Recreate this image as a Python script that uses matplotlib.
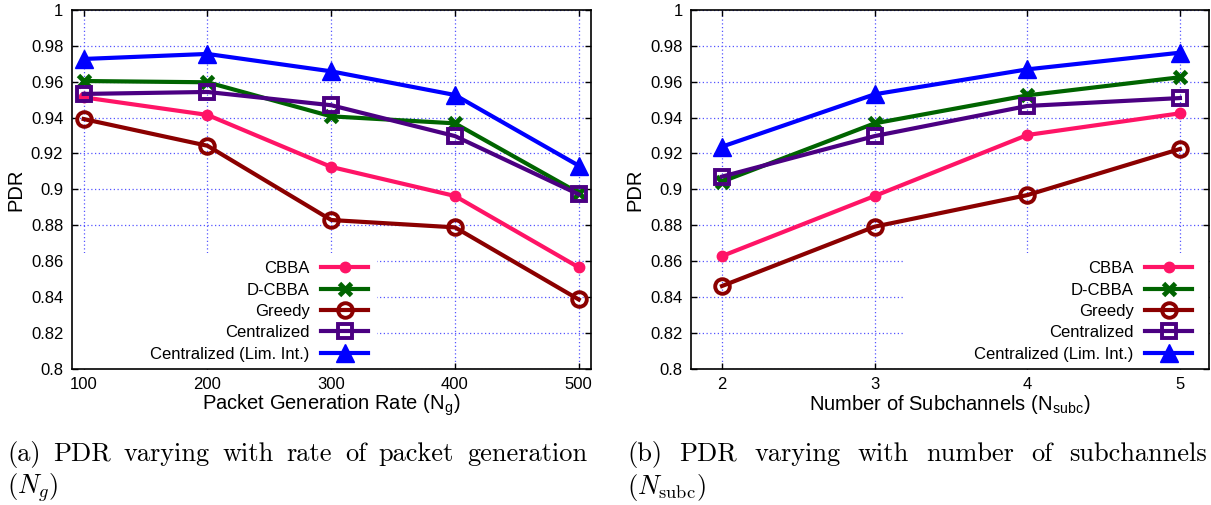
import matplotlib
matplotlib.use("Agg")
import matplotlib.pyplot as plt
from matplotlib.patches import Rectangle

plt.rcParams["font.family"] = ["Liberation Sans", "DejaVu Sans"]
plt.rcParams["mathtext.fontset"] = "cm"

# left panel: packet generation rate
rate = [100, 200, 300, 400, 500]
rate_cbba = [0.9513, 0.9415, 0.9125, 0.8963, 0.8565]
rate_dcbba = [0.9604, 0.9597, 0.9407, 0.9368, 0.8980]
rate_greedy = [0.9392, 0.9243, 0.8829, 0.8788, 0.8386]
rate_central = [0.9532, 0.9543, 0.9469, 0.9297, 0.8972]
rate_limint = [0.9727, 0.9755, 0.9658, 0.9526, 0.9132]

# right panel: number of subchannels
subc = [2, 3, 4, 5]
subc_cbba = [0.8628, 0.8963, 0.9303, 0.9424]
subc_dcbba = [0.9043, 0.9368, 0.9524, 0.9625]
subc_greedy = [0.8461, 0.8792, 0.8968, 0.9225]
subc_central = [0.9071, 0.9297, 0.9465, 0.9509]
subc_limint = [0.9238, 0.9530, 0.9669, 0.9762]

labels = ["CBBA", "D-CBBA", "Greedy", "Centralized", "Centralized (Lim. Int.)"]
y_ticks = [0.8, 0.82, 0.84, 0.86, 0.88, 0.9, 0.92, 0.94, 0.96, 0.98, 1.0]
y_tick_labels = ["0.8", "0.82", "0.84", "0.86", "0.88", "0.9", "0.92", "0.94",
                 "0.96", "0.98", "1"]

styles = [
    dict(color="#ff1466", marker="o", markersize=7.5),
    dict(color="#006400", marker="x", markersize=9, markeredgewidth=3.5),
    dict(color="#8b0000", marker="o", markersize=10.5, markerfacecolor="none",
         markeredgewidth=2.8),
    dict(color="#4b0082", marker="s", markersize=10.5, markerfacecolor="none",
         markeredgewidth=2.8),
    dict(color="#0000ff", marker="^", markersize=12.5),
]


def draw_panel(ax, x, series, xlim, xlabel, legend_x, box_x0, box_x1):
    ax.set_axisbelow(True)
    ax.grid(True, color="#5555ff", linestyle=(0, (1, 2)), linewidth=0.9)
    # opaque key area like gnuplot
    ax.add_patch(Rectangle((box_x0, 0), box_x1 - box_x0, 0.322,
                           transform=ax.transAxes, facecolor="white",
                           edgecolor="none", zorder=1))
    for values, label, style in zip(series, labels, styles):
        ax.plot(x, values, label=label, linewidth=3, zorder=3, **style)

    ax.set_xlim(*xlim)
    ax.set_ylim(0.8, 1.0)
    ax.set_xticks(x)
    ax.set_yticks(y_ticks)
    ax.set_yticklabels(y_tick_labels)
    ax.tick_params(direction="in", length=4, width=1, labelsize=12,
                   top=True, right=True, pad=6)
    for spine in ax.spines.values():
        spine.set_linewidth(1.2)

    ax.set_xlabel(xlabel, fontsize=14.5)
    ax.xaxis.set_label_coords(0.5, -0.101)
    ax.xaxis.label.set_va("center")
    ax.set_ylabel("PDR", fontsize=14.5)
    ax.yaxis.set_label_coords(-0.108, 0.5)
    ax.yaxis.label.set_va("center")

    ax.legend(loc="lower right", bbox_to_anchor=(legend_x, 0.02),
              frameon=False, markerfirst=False, fontsize=12,
              borderpad=0, borderaxespad=0, handlelength=2.8,
              handletextpad=0.7, labelspacing=0.38)


def justified_line(fig, words, x0, x1, y, **kw):
    renderer = fig.canvas.get_renderer()
    texts = [fig.text(0, y, w, va="baseline", **kw) for w in words]
    widths = [t.get_window_extent(renderer).width for t in texts]
    fig_w = fig.bbox.width
    total = (x1 - x0) * fig_w
    gap = (total - sum(widths)) / (len(words) - 1)
    pos = x0 * fig_w
    for t, w in zip(texts, widths):
        t.set_x(pos / fig_w)
        pos += w + gap


fig = plt.figure(figsize=(12.11, 5.05), dpi=100)
ax_left = fig.add_axes([0.0592, 0.2699, 0.4286, 0.7103])
ax_right = fig.add_axes([0.5706, 0.2699, 0.4277, 0.7103])

draw_panel(ax_left, rate,
           [rate_cbba, rate_dcbba, rate_greedy, rate_central, rate_limint],
           (90.3, 509.7), r"Packet Generation Rate (N$_\mathregular{g}$)",
           0.571, 0.0, 0.588)
draw_panel(ax_right, subc,
           [subc_cbba, subc_dcbba, subc_greedy, subc_central, subc_limint],
           (1.797, 5.19), r"Number of Subchannels (N$_\mathregular{subc}$)",
           0.967, 0.411, 1.0)

cap = dict(fontsize=19, family="cmr10")
justified_line(fig, ["(a)", "PDR", "varying", "with", "rate", "of", "packet",
                     "generation"], 7 / 1211, 587 / 1211, 0.0877, **cap)
fig.text(7 / 1211, 0.0218, r"$(N_g)$", va="baseline", fontsize=19)
justified_line(fig, ["(b)", "PDR", "varying", "with", "number", "of",
                     "subchannels"], 627 / 1211, 1207 / 1211, 0.0877, **cap)
fig.text(627 / 1211, 0.0218, r"$(N_{\mathrm{subc}})$", va="baseline",
         fontsize=19)

fig.savefig("out.png", dpi=100)
